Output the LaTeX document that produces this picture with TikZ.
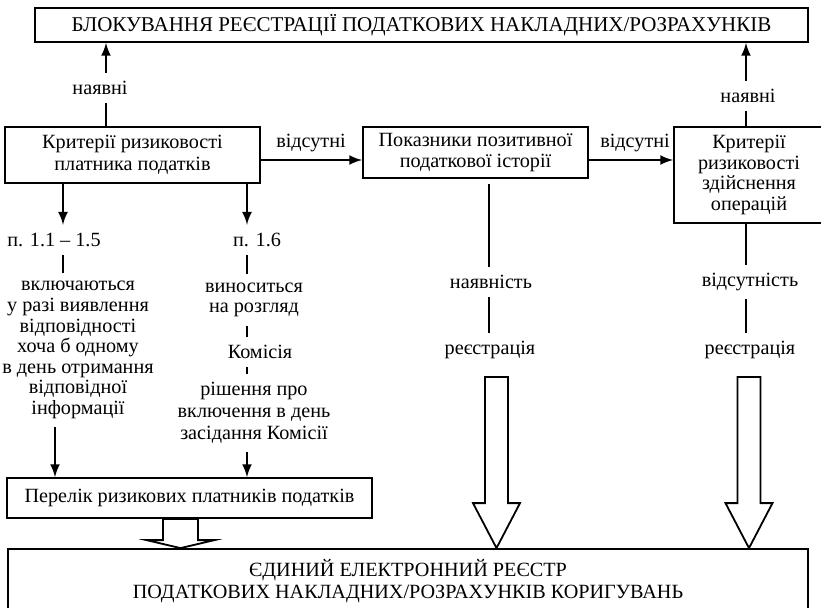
\documentclass[tikz,border=0pt]{standalone}
\usepackage{fontspec}
\setmainfont{Liberation Serif}
\usetikzlibrary{calc}

\begin{document}
\begin{tikzpicture}[x=0.5pt,y=-0.5pt]
% Styles
\tikzstyle{fleche}=[->,>=latex,line width=1.2pt]
\tikzstyle{trait}=[line width=0.8pt]
\tikzstyle{bloc}=[draw,line width=0.9pt,align=center,inner sep=0pt,font=\fontsize{10.1}{10.8}\selectfont]
\tikzstyle{texte}=[align=center,inner sep=4pt,font=\fontsize{10.1}{10.3}\selectfont]
\tikzstyle{creuse}=[draw,line width=0.9pt,fill=white,line join=miter]
% Dimensions
\def\U{0.5pt}
% Grosse fleche creuse : haut, pointe, demi-tige, demi-tete, longueur tete
\def\FlecheCreuse#1#2#3#4#5{%
  \draw[creuse] ($(#1)+(-#3,0)$) -- ($(#1)+(#3,0)$) -- ($(#2)+(#3,-#5)$)
    -- ($(#2)+(#4,-#5)$) -- (#2) -- ($(#2)+(-#4,-#5)$) -- ($(#2)+(-#3,-#5)$) -- cycle;}
\useasboundingbox (0,0) rectangle (821,607);
% Blocs
\node[bloc,minimum width=773*\U,minimum height=34*\U,font=\fontsize{10.5}{11}\selectfont] (Blocage) at (421.5,25)
  {БЛОКУВАННЯ РЕЄСТРАЦІЇ ПОДАТКОВИХ НАКЛАДНИХ/РОЗРАХУНКІВ};
\node[bloc,minimum width=255*\U,minimum height=56*\U] (Critere) at (132.5,155)
  {Критерії ризиковості\\платника податків};
\node[bloc,minimum width=225*\U,minimum height=51*\U] (Positive) at (475.5,152.5)
  {Показники позитивної\\податкової історії};
\node[bloc,minimum width=150*\U,minimum height=96*\U,font=\fontsize{10.1}{10.3}\selectfont] (Operations) at (749,175)
  {Критерії\\ризиковості\\здійснення\\операцій};
\node[bloc,minimum width=365*\U,minimum height=40*\U] (Perelik) at (189.5,498)
  {Перелік ризикових платників податків};
\node[bloc,minimum width=800*\U,minimum height=64*\U] (Reestr) at (408,581)
  {ЄДИНИЙ ЕЛЕКТРОННИЙ РЕЄСТР\\ПОДАТКОВИХ НАКЛАДНИХ/РОЗРАХУНКІВ КОРИГУВАНЬ};
% Etiquettes
\node[texte] (NayavniG) at (100,88) {наявні};
\node[texte] (NayavniD) at (748,96) {наявні};
\node[texte] (VidsutniA) at (311,143) {відсутні};
\node[texte] (VidsutniB) at (635,143) {відсутні};
\node[texte] (PunktA) at (54,240) {п. 1.1 – 1.5};
\node[texte] (PunktB) at (257,240) {п. 1.6};
\node[texte] (Vkluch) at (78,350)
  {включаються\\у разі виявлення\\відповідності\\хоча б одному\\в день отримання\\відповідної\\інформації};
\node[texte] (Vynos) at (254,300) {виноситься\\на розгляд};
\node[texte] (Komisia) at (260,352) {Комісія};
\node[texte,font=\fontsize{10.1}{11}\selectfont] (Rishennia) at (254,413) {рішення про\\включення в день\\засідання Комісії};
\node[texte] (Nayavnist) at (491,282) {наявність};
\node[texte] (Vidsutnist) at (750,282) {відсутність};
\node[texte] (RegA) at (490,350) {реєстрація};
\node[texte] (RegB) at (750,350) {реєстрація};
% Reperes
\coordinate (xG) at (106,0);
\coordinate (xH) at (746,0);
\coordinate (xA) at (63,0);
\coordinate (xA2) at (55,0);
\coordinate (xB) at (247,0);
\coordinate (xC) at (489,0);
\coordinate (xS) at (180.5,0);
\coordinate (yF) at (0,160);
\coordinate (HautA) at (496.5,377);
\coordinate (HautB) at (749,377);
% Arcs
\draw[trait] (Critere.north -| xG) -- (NayavniG.south -| xG);
\draw[fleche] (NayavniG.north -| xG) -- (Blocage.south -| xG);
\draw[trait] (Operations.north -| xH) -- (NayavniD.south -| xH);
\draw[fleche] (NayavniD.north -| xH) -- (Blocage.south -| xH);
\draw[fleche] (Critere.east |- yF) -- (Positive.west |- yF);
\draw[fleche] (Positive.east |- yF) -- (Operations.west |- yF);
\draw[fleche] (Critere.south -| xA) -- (PunktA.north -| xA);
\draw[trait] (PunktA.south -| xA) -- (Vkluch.north -| xA);
\draw[fleche] (Vkluch.south -| xA2) -- (Perelik.north -| xA2);
\draw[fleche] (Critere.south -| xB) -- (PunktB.north -| xB);
\draw[trait] (PunktB.south -| xB) -- (Vynos.north -| xB);
\draw[trait] (Vynos.south -| xB) -- (Komisia.north -| xB);
\draw[trait] (Komisia.south -| xB) -- (Rishennia.north -| xB);
\draw[fleche] (Rishennia.south -| xB) -- (Perelik.north -| xB);
\draw[trait,shorten <=2.5pt] (Positive.south -| xC) -- (Nayavnist.north -| xC);
\draw[trait] (Nayavnist.south -| xC) -- (RegA.north -| xC);
\draw[trait] (Operations.south -| xH) -- (Vidsutnist.north -| xH);
\draw[trait] (Vidsutnist.south -| xH) -- (RegB.north -| xH);
% Fleches creuses
\FlecheCreuse{HautA}{HautA |- Reestr.north}{11.5}{23.5}{45}
\FlecheCreuse{HautB}{HautB |- Reestr.north}{11.5}{23.5}{45}
\FlecheCreuse{Perelik.south -| xS}{Reestr.north -| xS}{17.5}{34}{8}
\end{tikzpicture}
\end{document}
